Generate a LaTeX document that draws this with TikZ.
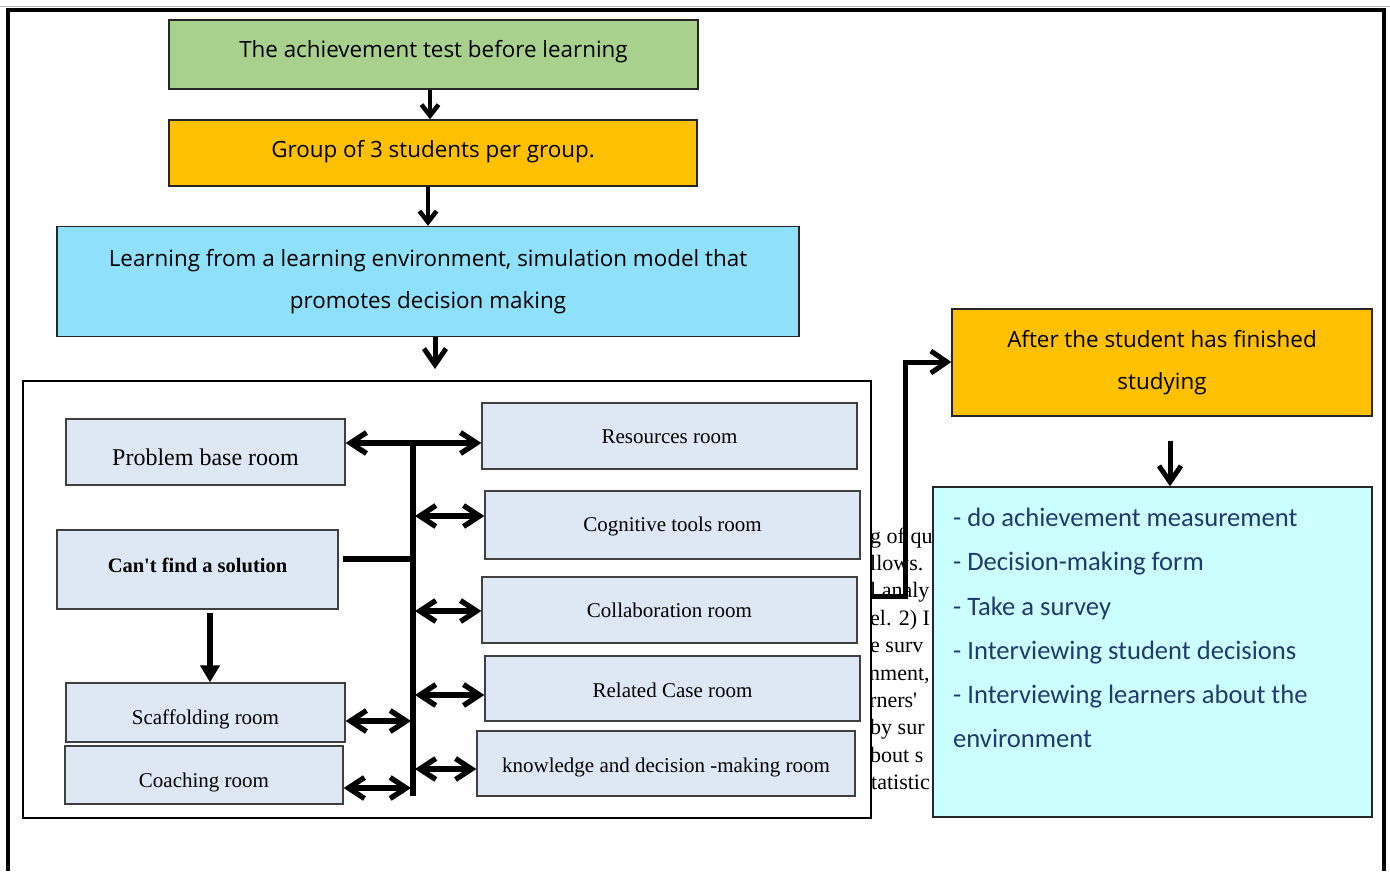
\documentclass[tikz,border=0pt]{standalone}
\usepackage{fontspec}
\setmainfont{Liberation Serif}
\newfontfamily\ofont{Open Sans}
\newfontfamily\cfont{Carlito}
\usetikzlibrary{arrows.meta,calc}
\definecolor{cgreen}{HTML}{A9D18E}
\definecolor{corange}{HTML}{FFC000}
\definecolor{cblue}{HTML}{8EE0FB}
\definecolor{croom}{HTML}{DEE8F4}
\definecolor{clist}{HTML}{CCFFFF}
\definecolor{cnavy}{HTML}{1F3A6E}
\tikzset{
  flowbox/.style={draw=black!85, line width=1.4pt, inner sep=0pt, align=center,
    font=\ofont\fontsize{22.4}{42.5}\selectfont},
  roombox/.style={draw=black!75, line width=1.3pt, fill=croom, inner sep=0pt, align=center,
    font=\fontsize{21}{25}\selectfont, text height=19pt, text depth=5pt},
  flowarr/.style={line width=4.5pt, -{Straight Barb[length=11pt,width=17pt]}},
  bigarr/.style={line width=5pt, -{Straight Barb[length=16pt,width=22pt]}},
  dblarr/.style={line width=5.3pt, {Straight Barb[length=16pt,width=21pt]}-{Straight Barb[length=16pt,width=21pt]}},
  busline/.style={line width=5.3pt},
  fillarr/.style={line width=5.3pt, -{Triangle[length=17pt,width=19pt]}},
  frag/.style={anchor=base west, inner sep=0pt, font=\fontsize{22}{26}\selectfont},
}
\begin{document}
\begin{tikzpicture}[x=1pt,y=-1pt]
\useasboundingbox (0,0) rectangle (1390,871);
% outer frame
\draw[gray!55, line width=1pt] (0,6.5) -- (1390,6.5);
\draw[line width=4pt] (8,871) -- (8,10) -- (1384,10) -- (1384,871);

% top flow boxes
\node[flowbox, fill=cgreen, minimum width=529pt, minimum height=69pt, text height=16pt, text depth=10.4pt] (a) at (433.5,54.5) {The achievement test before learning};
\node[flowbox, fill=corange, minimum width=528pt, minimum height=66pt, text height=16pt, text depth=7.4pt] (b) at (433,153) {Group of 3 students per group.};
\node[flowbox, fill=cblue, minimum width=742pt, minimum height=110pt] (c) at (428,281.5) {Learning from a learning environment, simulation model that\\promotes decision making};

% background text fragments
\begin{scope}
\clip (860,515) rectangle (933,800);
\node[frag] (f1) at (870,543) {g of qu};
\node[frag] (f2) at (870,570.4) {llows.};
\node[frag] (f3) at (870,597.8) {l analy};
\node[frag] (f4) at (870,625.2) {el. 2) I};
\node[frag] (f5) at (870,652.6) {e surv};
\node[frag] (f6) at (869,680) {nment,};
\node[frag] (f7) at (869,707.4) {rners\textquotesingle};
\node[frag] (f8) at (870,734.8) {by sur};
\node[frag] (f9) at (870,762.2) {bout s};
\node[frag] (f10) at (871,789.6) {tatistic};
\end{scope}

% inner frame
\node[draw=black, line width=1.8pt, fill=white, minimum width=848pt, minimum height=437pt, inner sep=0pt] (inner) at (447,599.5) {};

% rooms
\node[roombox, minimum width=279pt, minimum height=66pt, font=\fontsize{24}{28}\selectfont, text height=31pt] (pb) at (205.5,452) {Problem base room};
\node[roombox, minimum width=281pt, minimum height=79pt, font=\bfseries\fontsize{20.5}{25}\selectfont, text depth=14pt] (cant) at (197.5,569.5) {Can\textquotesingle t find a solution};
\node[roombox, minimum width=279pt, minimum height=59pt, text height=28pt] (sca) at (205.5,712.5) {Scaffolding room};
\node[roombox, minimum width=278pt, minimum height=58pt, text height=29pt] (coa) at (204,775) {Coaching room};
\node[roombox, minimum width=375pt, minimum height=66pt] (res) at (669.5,436) {Resources room};
\node[roombox, minimum width=375pt, minimum height=68pt, text depth=7pt] (cog) at (672.5,525) {Cognitive tools room};
\node[roombox, minimum width=375pt, minimum height=66pt] (col) at (669.5,610) {Collaboration room};
\node[roombox, minimum width=375pt, minimum height=65pt, text height=22pt] (rel) at (672.5,688.5) {Related Case room};
\node[roombox, minimum width=378pt, minimum height=65pt, text height=22pt] (kn) at (666,763.5) {knowledge and decision -making room};

% right side
\node[flowbox, fill=corange, minimum width=420pt, minimum height=107pt] (after) at (1162,362.5) {After the student has finished\\studying};
\node[draw=black!85, line width=1.4pt, fill=clist, minimum width=439pt, minimum height=330pt, inner sep=0pt] (list) at (1152.5,652) {};
\node[anchor=north west, inner sep=0pt, align=left, text=cnavy, font=\cfont\fontsize{26.6}{44.2}\selectfont] (lt) at (953,508) {- do achievement measurement\\- Decision-making form\\- Take a survey\\- Interviewing student decisions\\- Interviewing learners about the\\environment};

% coordinates
\coordinate (bustop) at (413,443);
\coordinate (busbot) at (413,796);
\coordinate (b0) at (413,559);
\coordinate (b1) at (415,516);
\coordinate (b2) at (415,611);
\coordinate (b3) at (415,695);
\coordinate (b4) at (415,769);
\coordinate (b5) at (411,721);
\coordinate (b6) at (411,788);
\coordinate (cin) at (435,369);
\coordinate (j1) at (905,596);
\coordinate (j2) at (905,362);
\coordinate (aftarr) at (1170,441);

% flow connectors
\draw[flowarr] (a.south -| 430,0) -- (b.north -| 430,0);
\draw[flowarr] (b.south -| c.north) -- (c.north);
\draw[bigarr] (c.south -| cin) -- (cin);
\draw[bigarr] (j1 -| inner.east) -- (j1) -- (j2) -- (j2 -| after.west);
\draw[bigarr] (aftarr) -- (aftarr |- list.north);

% bus
\draw[busline] (bustop) -- (busbot);
\draw[busline] (b0 -| cant.east) ++(4,0) -- (b0);
\draw[dblarr] (bustop -| pb.east) -- (bustop -| res.west);
\draw[dblarr] (b1) -- (b1 -| cog.west);
\draw[dblarr] (b2) -- (b2 -| col.west);
\draw[dblarr] (b3) -- (b3 -| rel.west);
\draw[dblarr] (b4) -- (b4 -| kn.west);
\draw[dblarr] (b5 -| sca.east) -- (b5);
\draw[dblarr] (b6 -| coa.east) -- (b6);
\draw[fillarr] ($(cant.south)+(12.5,3)$) -- ($(sca.north)+(4.5,0)$);
\end{tikzpicture}
\end{document}
